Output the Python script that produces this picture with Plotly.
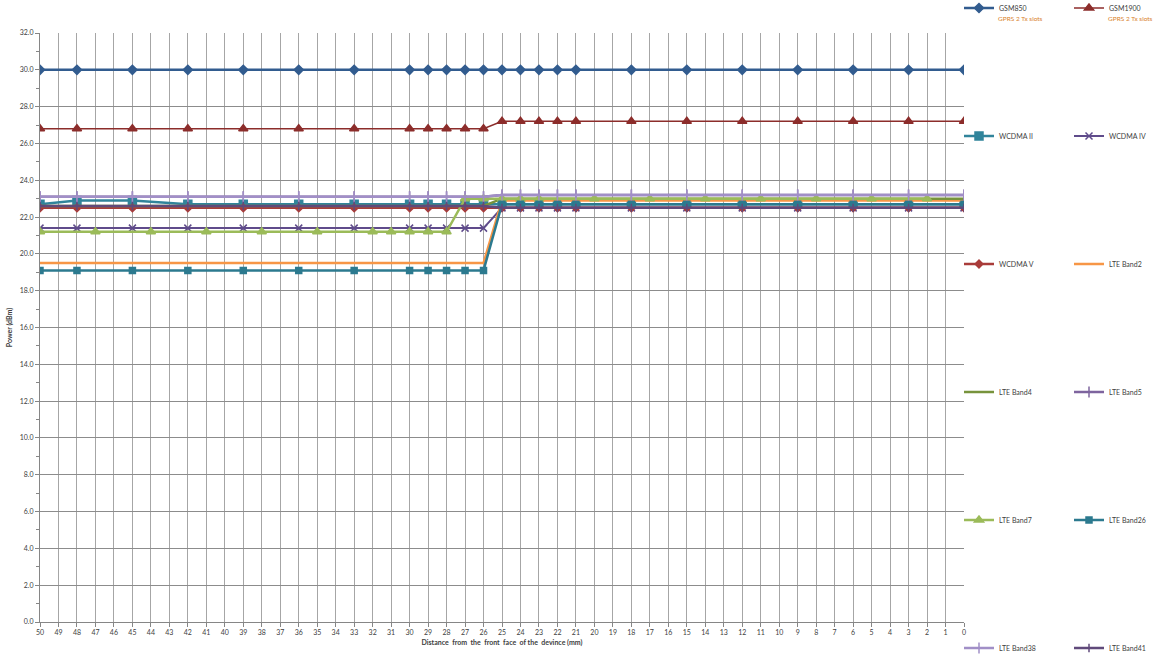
import plotly.graph_objects as go

# Distances (mm) where measurements were taken
DIST = [50, 48, 45, 42, 39, 36, 33, 30, 29, 28, 27, 26,
        25, 24, 23, 22, 21, 18, 15, 12, 9, 6, 3, 0]
DIST_B7 = [50, 47, 44, 41, 38, 35, 32, 31, 30, 29, 28,
           27, 26, 25, 24, 23, 20, 17, 14, 11, 8, 5, 2]

X_TICKS = [50, 49, 48, 47, 46, 45, 44, 43, 42, 41, 40, 39, 38, 37, 36, 35, 34,
           33, 32, 31, 30, 29, 28, 27, 26, 25, 24, 23, 22, 21, 20, 19, 18, 17,
           16, 15, 14, 13, 12, 11, 10, 9, 8, 7, 6, 5, 4, 3, 2, 1, 0]

# Conducted power (dBm) per band
gsm850 = [30.0, 30.0, 30.0, 30.0, 30.0, 30.0, 30.0, 30.0, 30.0, 30.0, 30.0, 30.0,
          30.0, 30.0, 30.0, 30.0, 30.0, 30.0, 30.0, 30.0, 30.0, 30.0, 30.0, 30.0]
gsm1900 = [26.8, 26.8, 26.8, 26.8, 26.8, 26.8, 26.8, 26.8, 26.8, 26.8, 26.8, 26.8,
           27.2, 27.2, 27.2, 27.2, 27.2, 27.2, 27.2, 27.2, 27.2, 27.2, 27.2, 27.2]
wcdma2 = [22.7, 22.9, 22.9, 22.7, 22.7, 22.7, 22.7, 22.7, 22.7, 22.7, 22.7, 22.7,
          22.7, 22.7, 22.7, 22.7, 22.7, 22.7, 22.7, 22.7, 22.7, 22.7, 22.7, 22.7]
wcdma4 = [21.4, 21.4, 21.4, 21.4, 21.4, 21.4, 21.4, 21.4, 21.4, 21.4, 21.4, 21.4,
          22.5, 22.5, 22.5, 22.5, 22.5, 22.5, 22.5, 22.5, 22.5, 22.5, 22.5, 22.5]
wcdma5 = [22.5, 22.5, 22.5, 22.5, 22.5, 22.5, 22.5, 22.5, 22.5, 22.5, 22.5, 22.5,
          22.5, 22.5, 22.5, 22.5, 22.5, 22.5, 22.5, 22.5, 22.5, 22.5, 22.5, 22.5]
lte2 = [19.5, 19.5, 19.5, 19.5, 19.5, 19.5, 19.5, 19.5, 19.5, 19.5, 19.5, 19.5,
        22.9, 22.9, 22.9, 22.9, 22.9, 22.9, 22.9, 22.9, 22.9, 22.9, 22.9, 22.9]
lte4 = [22.6, 22.6, 22.6, 22.6, 22.6, 22.6, 22.6, 22.6, 22.6, 22.6, 22.6, 22.6,
        23.0, 23.0, 23.0, 23.0, 23.0, 23.0, 23.0, 23.0, 23.0, 23.0, 23.0, 23.0]
lte5 = [23.1, 23.1, 23.1, 23.1, 23.1, 23.1, 23.1, 23.1, 23.1, 23.1, 23.1, 23.1,
        23.2, 23.2, 23.2, 23.2, 23.2, 23.2, 23.2, 23.2, 23.2, 23.2, 23.2, 23.2]
lte7 = [21.2, 21.2, 21.2, 21.2, 21.2, 21.2, 21.2, 21.2, 21.2, 21.2, 21.2,
        23.0, 23.0, 23.0, 23.0, 23.0, 23.0, 23.0, 23.0, 23.0, 23.0, 23.0, 23.0]
lte26 = [19.1, 19.1, 19.1, 19.1, 19.1, 19.1, 19.1, 19.1, 19.1, 19.1, 19.1, 19.1,
         22.7, 22.7, 22.7, 22.7, 22.7, 22.7, 22.7, 22.7, 22.7, 22.7, 22.7, 22.7]
lte38 = [23.1, 23.1, 23.1, 23.1, 23.1, 23.1, 23.1, 23.1, 23.1, 23.1, 23.1, 23.1,
         23.2, 23.2, 23.2, 23.2, 23.2, 23.2, 23.2, 23.2, 23.2, 23.2, 23.2, 23.2]
lte41 = [22.6, 22.6, 22.6, 22.6, 22.6, 22.6, 22.6, 22.6, 22.6, 22.6, 22.6, 22.6,
         22.5, 22.5, 22.5, 22.5, 22.5, 22.5, 22.5, 22.5, 22.5, 22.5, 22.5, 22.5]

FONT = "Lato"
TXT = "#404040"

# name, x, y, color, line width, marker symbol, marker size, legend slot (col, row)
series = [
    ("GSM850", DIST, gsm850, "#325C8F", 2.5, "diamond", 7, (0, 0)),
    ("GSM1900", DIST, gsm1900, "#8C2D2B", 1.5, "triangle-up", 8, (1, 0)),
    ("WCDMA II", DIST, wcdma2, "#31849B", 2.5, "square", 8, (0, 1)),
    ("WCDMA IV", DIST, wcdma4, "#5F4B8B", 2.0, "x-thin-open", 7, (1, 1)),
    ("WCDMA V", DIST, wcdma5, "#A93C3A", 2.5, "diamond", 6, (0, 2)),
    ("LTE Band2", DIST, lte2, "#F79646", 2.5, None, 0, (1, 2)),
    ("LTE Band4", DIST, lte4, "#77933C", 2.5, None, 0, (0, 3)),
    ("LTE Band5", DIST, lte5, "#7E649E", 2.5, "cross-thin-open", 8, (1, 3)),
    ("LTE Band7", DIST_B7, lte7, "#9BBB59", 2.5, "triangle-up", 8, (0, 4)),
    ("LTE Band26", DIST, lte26, "#2C7A8F", 2.5, "square", 6, (1, 4)),
    ("LTE Band38", DIST, lte38, "#A18FC7", 2.5, "cross-thin-open", 8, (0, 5)),
    ("LTE Band41", DIST, lte41, "#604A7B", 2.5, "cross-thin-open", 6, (1, 5)),
]

# plot area in pixels
W, H = 1155, 655
L, R, T, B = 40, 964, 33, 622
PW, PH = R - L, B - T

def px_x(p):
    return (p - L) / PW

def px_y(p):
    return (B - p) / PH

COL_X = [959, 1069]
ROW_Y = [8, 136, 264, 392, 520, 648]

fig = go.Figure()
legends = {}
for i, (name, xs, ys, color, lw, sym, msize, (col, row)) in enumerate(series):
    key = "legend" if i == 0 else f"legend{i + 1}"
    mode = "lines+markers" if sym else "lines"
    marker = dict(symbol=sym, size=msize, color=color,
                  line=dict(color=color, width=1.5)) if sym else None
    fig.add_trace(go.Scatter(
        x=xs, y=ys, name=name, mode=mode,
        line=dict(color=color, width=lw),
        marker=marker, legend=key, showlegend=True,
    ))
    legends[key] = dict(
        x=px_x(COL_X[col]), y=px_y(ROW_Y[row]),
        xanchor="left", yanchor="middle",
        bgcolor="rgba(0,0,0,0)", borderwidth=0,
        font=dict(family=FONT, size=7, color=TXT),
        itemwidth=30, tracegroupgap=0,
    )

for xp in (COL_X[0], COL_X[1]):
    fig.add_annotation(
        x=px_x(xp + 37), y=px_y(18), xref="paper", yref="paper",
        xanchor="left", yanchor="middle", showarrow=False,
        text="GPRS 2 Tx slots",
        font=dict(family=FONT, size=6.5, color="#D9822B"),
    )

fig.update_layout(
    width=W, height=H,
    margin=dict(l=L, r=W - R, t=T, b=H - B, autoexpand=False),
    paper_bgcolor="white", plot_bgcolor="white",
    font=dict(family=FONT, size=7, color=TXT),
    **legends,
)

fig.update_xaxes(
    range=[50, 0], tickmode="array", tickvals=X_TICKS,
    ticktext=[str(v) for v in X_TICKS],
    showgrid=True, gridcolor="#a6a6a6", gridwidth=1,
    showline=True, linecolor="#868686", linewidth=1,
    ticks="outside", ticklen=4, tickcolor="#868686",
    tickfont=dict(family=FONT, size=7, color=TXT),
    zeroline=False,
    title=dict(text="<b>Distance  from  the  front  face  of the  devince (mm)</b>",
               font=dict(family=FONT, size=7, color=TXT), standoff=4),
)
fig.update_yaxes(
    range=[0, 32], dtick=2, tick0=0, tickformat=".1f",
    showgrid=True, gridcolor="#8c8c8c", gridwidth=1,
    showline=True, linecolor="#868686", linewidth=1,
    ticks="outside", ticklen=4, tickcolor="#868686",
    minor=dict(dtick=1, ticks="outside", ticklen=3, tickcolor="#868686", showgrid=False),
    tickfont=dict(family=FONT, size=7, color=TXT),
    zeroline=False,
    title=dict(text="<b>Power (dBm)</b>", font=dict(family=FONT, size=7, color=TXT),
               standoff=6),
)

fig.write_html("out.html")
